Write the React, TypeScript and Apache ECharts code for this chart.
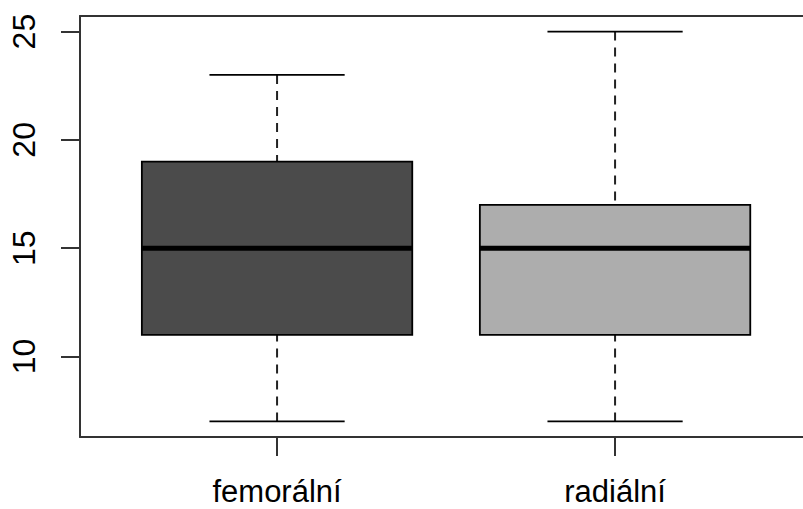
import React, { useEffect, useRef } from 'react';
import * as echarts from 'echarts';

const categories = ['femorální', 'radiální'];
const xPositions = [1, 2];
const whiskerLow = [7, 7];
const q1 = [11, 11];
const median = [15, 15];
const q3 = [19, 17];
const whiskerHigh = [23, 25];
const boxColors = ['#4b4b4b', '#adadad'];
const yTicks = [10, 15, 20, 25];

export default function App() {
  const ref = useRef<HTMLDivElement>(null);
  useEffect(() => {
    if (!ref.current) return;
    const chart = echarts.init(ref.current, undefined, { renderer: 'svg' });
    const data = xPositions.map((x, i) => [x, whiskerLow[i], q1[i], median[i], q3[i], whiskerHigh[i]]);
    const font = 'Liberation Sans, Arial, Helvetica, sans-serif';
    const frame = { show: true, onZero: false, lineStyle: { color: '#333333', width: 2 } };
    chart.setOption({
      animation: false,
      backgroundColor: '#ffffff',
      grid: {
        left: 80,
        top: 16,
        right: 0,
        bottom: 72,
        outerBoundsMode: 'none',
        containLabel: false,
        show: false,
      },
      xAxis: [
        {
          type: 'value',
          position: 'bottom',
          min: 0.417,
          max: 2.556,
          splitLine: { show: false },
          axisLine: frame,
          axisTick: { show: true, length: 19, lineStyle: { color: '#333333', width: 2 }, customValues: xPositions },
          axisLabel: {
            customValues: xPositions,
            formatter: (v: number) => categories[Math.round(v) - 1],
            fontSize: 31,
            lineHeight: 24,
            color: '#000000',
            margin: 42,
            fontFamily: font,
          },
        },
        {
          type: 'value',
          position: 'top',
          min: 0.417,
          max: 2.556,
          splitLine: { show: false },
          axisLine: frame,
          axisTick: { show: false },
          axisLabel: { show: false },
        },
      ],
      yAxis: {
        type: 'value',
        min: 6.28,
        max: 25.72,
        splitLine: { show: false },
        axisLine: frame,
        axisTick: { show: true, length: 19, lineStyle: { color: '#333333', width: 2 }, customValues: yTicks },
        axisLabel: {
          customValues: yTicks,
          rotate: 90,
          fontSize: 32,
          color: '#000000',
          margin: 40,
          fontFamily: font,
        },
      },
      series: [
        {
          type: 'custom',
          xAxisIndex: 0,
          data,
          encode: { x: 0, y: [1, 2, 3, 4, 5] },
          renderItem: (params: any, api: any) => {
            const x = api.value(0);
            const lo = api.value(1);
            const b1 = api.value(2);
            const md = api.value(3);
            const b3 = api.value(4);
            const hi = api.value(5);
            const boxW = api.size([0.8, 0])[0];
            const capW = api.size([0.4, 0])[0];
            const pLo = api.coord([x, lo]);
            const pQ1 = api.coord([x, b1]);
            const pMd = api.coord([x, md]);
            const pQ3 = api.coord([x, b3]);
            const pHi = api.coord([x, hi]);
            const cx = pMd[0];
            const dash = { stroke: '#222', lineWidth: 2, lineDash: [9, 7] };
            const solid = { stroke: '#000', lineWidth: 1.8 };
            return {
              type: 'group',
              children: [
                { type: 'line', shape: { x1: cx, y1: pHi[1], x2: cx, y2: pQ3[1] }, style: dash },
                { type: 'line', shape: { x1: cx, y1: pLo[1], x2: cx, y2: pQ1[1] }, style: dash },
                { type: 'line', shape: { x1: cx - capW / 2, y1: pHi[1], x2: cx + capW / 2, y2: pHi[1] }, style: solid },
                { type: 'line', shape: { x1: cx - capW / 2, y1: pLo[1], x2: cx + capW / 2, y2: pLo[1] }, style: solid },
                {
                  type: 'rect',
                  shape: { x: cx - boxW / 2, y: pQ3[1], width: boxW, height: pQ1[1] - pQ3[1] },
                  style: { fill: boxColors[params.dataIndex], stroke: '#000', lineWidth: 1.8 },
                },
                { type: 'line', shape: { x1: cx - boxW / 2, y1: pMd[1], x2: cx + boxW / 2, y2: pMd[1] }, style: { stroke: '#000', lineWidth: 5 } },
              ],
            };
          },
        },
      ],
    });
    return () => chart.dispose();
  }, []);
  return <div ref={ref} style={{ position: 'absolute', left: 0, top: 0, width: 803, height: 509 }} />;
}
